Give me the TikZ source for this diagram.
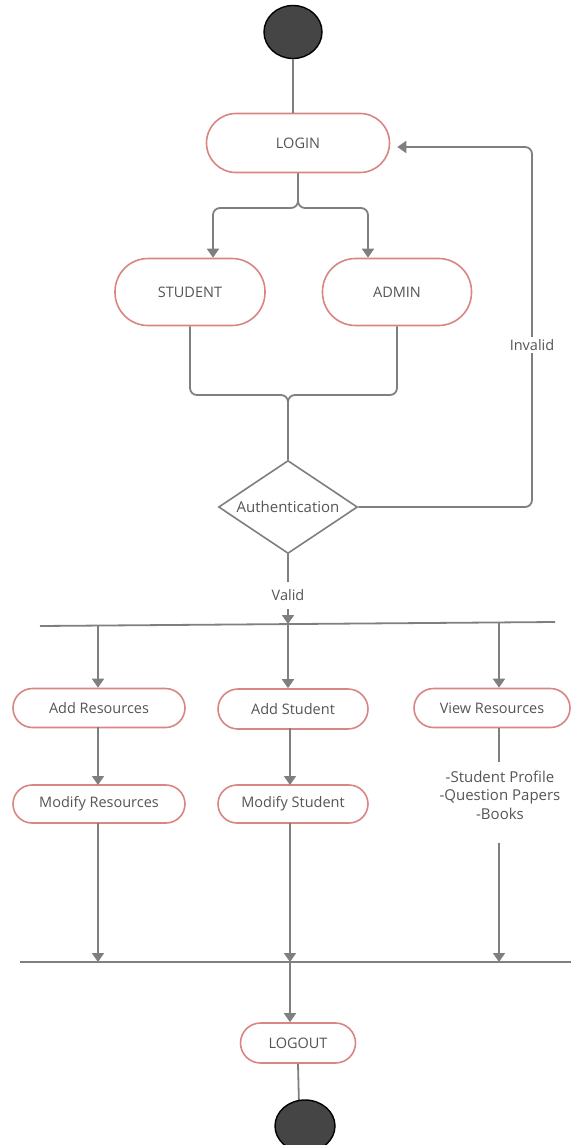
\documentclass[tikz,border=0pt]{standalone}
\usepackage{fontspec}
\setmainfont{Open Sans}
\usetikzlibrary{shapes.geometric,arrows.meta}
\definecolor{nodered}{HTML}{D98583}
\definecolor{linegray}{HTML}{7F7F7F}
\definecolor{txtgray}{HTML}{555555}
\definecolor{blobfill}{HTML}{454545}
\tikzset{
  act/.style={draw=nodered, line width=1.6pt, fill=white, rounded corners=#1, text=txtgray, font=\fontsize{14.5}{16}\selectfont, inner sep=0pt},
  line/.style={draw=linegray, line width=1.8pt},
  arr/.style={line, -{Triangle[width=12pt,length=9pt]}},
  rc/.style={rounded corners=7pt},
  blob/.style={draw=black, line width=1.4pt, fill=blobfill, ellipse, inner sep=0pt},
  lbl/.style={fill=white, text=txtgray, font=\fontsize{14.5}{16}\selectfont, inner sep=2pt},
}
\begin{document}
\begin{tikzpicture}[x=1pt,y=-1pt]
\useasboundingbox (0,0) rectangle (571,1145);
% nodes
\node[blob, minimum width=58pt, minimum height=53pt] (start) at (293,32) {};
\node[act=29.5pt, minimum width=183pt, minimum height=59pt] (login) at (298,143) {LOGIN};
\node[act=33pt, minimum width=150pt, minimum height=67pt] (student) at (190,292) {STUDENT};
\node[act=33pt, minimum width=149pt, minimum height=67pt] (admin) at (397,292) {ADMIN};
\node[draw=linegray, line width=1.6pt, diamond, aspect=1.5, minimum width=139pt, minimum height=93pt, inner sep=0pt, fill=white, text=txtgray, font=\fontsize{15}{16}\selectfont] (auth) at (288,507) {Authentication};
\node[act=19.5pt, minimum width=172pt, minimum height=39pt] (addres) at (99,708) {Add Resources};
\node[act=20pt, minimum width=150pt, minimum height=40pt] (addstu) at (293,709) {Add Student};
\node[act=19.5pt, minimum width=156pt, minimum height=39pt] (viewres) at (492,708) {View Resources};
\node[act=19pt, minimum width=172pt, minimum height=38pt] (modres) at (99,804) {Modify Resources};
\node[act=19pt, minimum width=150pt, minimum height=38pt] (modstu) at (293,804) {Modify Student};
\node[text=txtgray, font=\fontsize{15}{18.5}\selectfont, align=center, inner sep=0pt] (vlist) at (500,795) {-Student Profile\\-Question Papers\\-Books};
\node[act=20pt, minimum width=115pt, minimum height=40pt] (logout) at (298,1043) {LOGOUT};
% coordinates
\coordinate (fork) at (299,208);
\coordinate (merge) at (288,395);
\coordinate (loopc) at (532,147);
\coordinate (b1L) at (40,626);
\coordinate (b1R) at (555,622);
\coordinate (b1a) at (98,625);
\coordinate (b1b) at (288,624);
\coordinate (b1c) at (499,623);
\coordinate (b2L) at (20,962);
\coordinate (b2R) at (571,962);
\coordinate (b2a) at (98,962);
\coordinate (b2b) at (290,962);
\coordinate (b2c) at (499,962);
\coordinate (endtop) at (299,1105);
% connectors
\draw[line] (start.south) -- (start.south |- login.north);
\draw[arr,rc] (login.south) -- (login.south |- fork) -| ([xshift=23pt]student.north);
\draw[arr,rc] (login.south) -- (login.south |- fork) -| ([xshift=-29pt]admin.north);
\draw[line,rc] (student.south) |- (merge) -- (auth.north);
\draw[line,rc] (admin.south) |- (merge) -- (auth.north);
\draw[arr,rc,shorten >=7pt] (auth.east) -| (loopc) -- ([yshift=-4pt]login.east);
\node[lbl] (invalid) at (532,345) {Invalid};
\draw[line] (auth.south) -- (288,582);
\node[lbl, fill=none] (valid) at (288,595) {Valid};
\draw[arr] (288,609) -- (b1b);
\draw[line] (b1L) -- (b1R);
\draw[arr] (b1a) -- (b1a |- addres.north);
\draw[arr] (b1b) -- (b1b |- addstu.north);
\draw[arr] (b1c) -- (b1c |- viewres.north);
\draw[arr] (98,727) -- (98,785);
\draw[arr] (290,728) -- (290,785);
\draw[line] (499,728) -- (499,762);
\draw[arr] (499,843) -- (b2c);
\draw[arr] (98,823) -- (b2a);
\draw[arr] (290,823) -- (b2b);
\draw[line] (b2L) -- (b2R);
\draw[arr] (b2b) -- (b2b |- logout.north);
\draw[line] (logout.south) -- (endtop);
\node[blob, minimum width=60pt, minimum height=52pt] (end) at (305,1126) {};
\end{tikzpicture}
\end{document}
